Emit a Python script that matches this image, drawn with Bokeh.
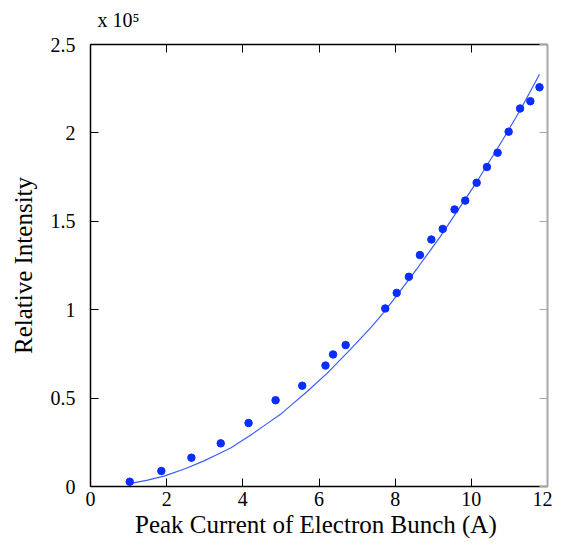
from bokeh.plotting import figure
from bokeh.models import LinearAxis, FixedTicker, Range1d, CustomJSTickFormatter, Title
from bokeh.embed import file_html
from bokeh.resources import INLINE

# Measured data (relative intensity in units of 1e5)
current_pts = [1.03, 1.86, 2.65, 3.42, 4.15, 4.86, 5.56, 6.17, 6.37, 6.70,
               7.74, 8.04, 8.36, 8.65, 8.95, 9.25, 9.56, 9.84, 10.14, 10.41,
               10.69, 10.98, 11.28, 11.55, 11.79]
intensity_pts = [0.027, 0.088, 0.163, 0.244, 0.359, 0.488, 0.570, 0.684, 0.747, 0.800,
                 1.007, 1.095, 1.186, 1.309, 1.397, 1.457, 1.567, 1.617, 1.718, 1.807,
                 1.888, 2.007, 2.138, 2.179, 2.258]

# Fitted curve
fit_x = [1.06, 1.50, 1.93, 2.50, 2.98, 3.30, 3.68, 4.20, 4.60, 4.99, 5.30, 5.69,
         6.21, 6.80, 7.39, 7.70, 8.04, 8.60, 9.18, 9.70, 10.14, 10.83, 11.30, 11.79]
fit_y = [0.018, 0.036, 0.059, 0.102, 0.145, 0.178, 0.218, 0.290, 0.350, 0.408, 0.466, 0.537,
         0.640, 0.770, 0.906, 0.985, 1.080, 1.240, 1.412, 1.580, 1.722, 1.963, 2.135, 2.332]

x_ticks = [0, 2, 4, 6, 8, 10, 12]
y_ticks = [0, 0.5, 1, 1.5, 2, 2.5]
y_tick_labels = {0: "0", 0.5: "0.5", 1: "1", 1.5: "1.5", 2: "2", 2.5: "2.5"}

FONT = "Liberation Serif"

p = figure(width=552, height=541, output_backend="svg", toolbar_location=None,
           x_range=Range1d(0, 12), y_range=Range1d(0, 2.5),
           x_axis_label="Peak Current of  Electron Bunch (A)",
           y_axis_label="Relative Intensity",
           title="x 10\u2075", title_location="above",
           min_border_left=90, min_border_right=5, min_border_top=44, min_border_bottom=55)
p.grid.visible = False
p.outline_line_color = None
p.background_fill_color = "white"
p.border_fill_color = "white"

p.title.text_font = FONT
p.title.text_font_size = "20px"
p.title.text_font_style = "normal"
p.title.text_color = "black"
p.title.align = "left"
p.title.offset = 7
p.title.standoff = 2

xa = p.xaxis[0]
xa.ticker = FixedTicker(ticks=x_ticks)
ya = p.yaxis[0]
ya.ticker = FixedTicker(ticks=y_ticks)
ya.major_label_overrides = y_tick_labels

for ax in (xa, ya):
    ax.major_tick_in = 8
    ax.major_tick_out = 0
    ax.minor_tick_line_color = None
    ax.axis_line_color = "black"
    ax.axis_line_width = 1.5
    ax.major_tick_line_color = "black"
    ax.major_label_text_font = FONT
    ax.major_label_text_font_size = "20px"
    ax.major_label_text_color = "black"
    ax.axis_label_text_font = FONT
    ax.axis_label_text_font_size = "25px"
    ax.axis_label_text_font_style = "normal"
    ax.axis_label_text_color = "black"

xa.major_label_standoff = 5
xa.axis_label_standoff = 2
ya.major_label_standoff = 15
ya.axis_label_standoff = 11

blank = CustomJSTickFormatter(code="return ''")
top = LinearAxis(ticker=FixedTicker(ticks=x_ticks), formatter=blank,
                 major_tick_in=8, major_tick_out=0, minor_tick_line_color=None,
                 axis_line_color="black", axis_line_width=1.5, major_label_standoff=0,
                 major_label_text_font_size="1px")
right = LinearAxis(ticker=FixedTicker(ticks=y_ticks), formatter=blank,
                   major_tick_in=8, major_tick_out=0, minor_tick_line_color=None,
                   axis_line_color="#a8a8a8", axis_line_width=2,
                   major_tick_line_color="#a8a8a8", major_label_standoff=0,
                   major_label_text_font_size="1px")
p.add_layout(top, "above")
p.add_layout(right, "right")
# spacer between the top axis and the scale-factor title
p.add_layout(Title(text=" ", text_font_size="10px", standoff=0), "above")

p.line(fit_x, fit_y, line_color="#3a5cff", line_width=1.2)
p.scatter(current_pts, intensity_pts, marker="circle", size=7.5,
          fill_color="#0a2eff", line_color="#0a2eff")

open("out.html", "w").write(file_html(p, INLINE))
